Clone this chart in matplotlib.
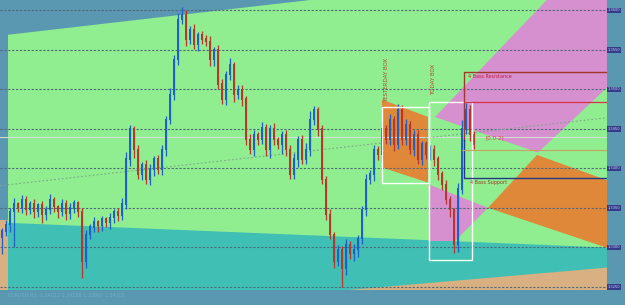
import numpy as np
import matplotlib
matplotlib.use("Agg")
import matplotlib.pyplot as plt
from matplotlib.patches import Polygon, Rectangle

# price data, in pips above the base price
base = 1.3250
close_pips = [70, 78, 95, 104, 100, 110, 97, 104, 95, 103,
              91, 97, 110, 101, 95, 105, 92, 99, 106, 95,
              32, 66, 75, 82, 77, 85, 81, 87, 95, 90,
              104, 161, 199, 173, 142, 154, 135, 148, 161, 148,
              173, 211, 243, 287, 338, 344, 313, 325, 306, 319,
              313, 310, 287, 300, 256, 237, 268, 281, 243, 249,
              237, 186, 173, 192, 186, 201, 173, 199, 186, 180,
              192, 173, 142, 161, 186, 161, 173, 211, 224, 199,
              135, 91, 66, 32, 47, 22, 53, 41, 47, 60,
              97, 135, 142, 173, 167, 199, 186, 211, 180, 224,
              186, 205, 173, 192, 161, 180, 167, 173, 161, 142,
              129, 110, 97, 53, 123, 199, 224, 192, 180]
first_open = 62
up_wick = [4, 6, 5, 8, 3, 6, 5, 4, 7, 3, 6, 5, 8, 4, 3, 6, 5, 7, 4, 3,
           5, 6, 4, 7, 3, 5, 4, 6, 3, 5, 8, 10, 6, 5, 7, 4, 6, 8, 5, 6,
           7, 5, 9, 6, 8, 10, 6, 5, 7, 4, 5, 6, 8, 4, 6, 7, 5, 9, 4, 6,
           7, 5, 8, 6, 4, 7, 5, 6, 8, 4, 5, 7, 6, 8, 5, 6, 9, 12, 5, 4,
           6, 5, 7, 4, 6, 5, 8, 5, 7, 6, 5, 8, 6, 7, 5, 9, 6, 8, 5, 7,
           6, 8, 5, 7, 6, 5, 4, 7, 6, 5, 4, 6, 5, 3, 8, 12, 10, 6, 5]
down_wick = [20, 6, 8, 45, 5, 7, 6, 5, 8, 6, 10, 7, 5, 6, 8, 5, 7, 6, 5, 6,
             21, 8, 6, 5, 7, 6, 5, 8, 6, 7, 5, 6, 8, 10, 6, 7, 5, 6, 8, 5,
             6, 8, 5, 7, 6, 5, 8, 6, 5, 7, 6, 5, 7, 8, 6, 5, 7, 6, 9, 5,
             8, 6, 5, 7, 6, 5, 8, 10, 6, 5, 12, 8, 6, 5, 9, 6, 5, 7, 6, 8,
             5, 7, 6, 8, 6, 22, 7, 6, 8, 9, 6, 7, 5, 8, 6, 7, 5, 6, 8, 5,
             7, 6, 5, 8, 6, 7, 5, 6, 8, 7, 6, 5, 8, 10, 9, 6, 5, 7, 6]

price_levels = [0, 50, 100, 150, 200, 250, 300, 350]
price_labels = ["1.3250", "1.3300", "1.3350", "1.3400", "1.3450", "1.3500", "1.3550", "1.3600"]

# chart objects (bar index, pips)
green_zone = [(1.5, 319), (77, 363), (162, 414), (162, -20), (1.5, -20)]
teal_zone = [(1.5, 81), (155, 49), (155, -20), (1.5, -20)]
tan_left = [(-1, 85), (1.5, 85), (1.5, -20), (-1, -20)]
tan_right = [(82, -6), (155, 26), (155, -20), (82, -20)]
orange_yday = [(95, 237), (106.5, 215), (106.5, 132), (95, 151)]
orange_proj = [(133.75, 167), (155, 128), (155, 43), (121.5, 100)]
pink_proj = [(108.25, 215), (137.5, 370), (155, 370), (155, 270), (134, 170)]
pink_today = [(107, 129), (121.5, 100), (113.25, 58), (107, 58)]
yday_box = (95, 132, 11.75, 96)
today_box = (106.75, 34, 10.75, 200)
trend_line = [(-0.5, 128), (151.25, 214)]

bg = "#5a97b0"
bull = "#1f5fc8"
bear = "#b8362c"


def p(v):
    return base + np.asarray(v) / 10000.0


def poly(pts, color, z):
    xy = [(x, p(y)) for x, y in pts]
    ax.add_patch(Polygon(xy, closed=True, facecolor=color, edgecolor="none", zorder=z))


fig = plt.figure(figsize=(6.25, 3.05), dpi=100)
fig.patch.set_facecolor(bg)
ax = fig.add_axes([0, 15 / 305, 607 / 625, 290 / 305])
ax.set_facecolor(bg)
ax.set_xlim(-0.5, 151.25)
ax.set_ylim(p(-4), p(363))
for s in ax.spines.values():
    s.set_visible(False)
ax.set_xticks([])
ax.set_yticks([])

poly(green_zone, "#90ee90", 1)
poly(teal_zone, "#40c0b4", 1.1)
poly(tan_left, "#d8b082", 1.2)
poly(tan_right, "#d8b082", 1.2)
poly(orange_yday, "#e0883a", 2)
poly(orange_proj, "#e0883a", 2)
poly(pink_proj, "#d68fcf", 2)
poly(pink_today, "#d68fcf", 2)

# grid levels
for lv in price_levels:
    ax.axhline(p(lv), color="#50687a", lw=0.8, ls=(0, (2, 1.5)), zorder=3)
ax.axhline(p(189), color="#d4ddd4", lw=0.8, zorder=3)
ax.plot([trend_line[0][0], trend_line[1][0]], p([trend_line[0][1], trend_line[1][1]]),
        color="#7aa888", lw=0.8, ls=(0, (1.5, 2)), zorder=3)

# candles
close = np.array(close_pips, dtype=float)
opens = np.r_[first_open, close[:-1]]
highs = np.maximum(opens, close) + np.array(up_wick)
lows = np.minimum(opens, close) - np.array(down_wick)
idx = np.arange(len(close))
colors = [bull if c >= o else bear for o, c in zip(opens, close)]
ax.vlines(idx, p(lows), p(highs), colors=colors, lw=0.9, zorder=4)
ax.bar(idx, p(np.abs(close - opens) + 1.5) - base, bottom=p(np.minimum(opens, close)),
       width=0.7, color=colors, zorder=5, linewidth=0)

# boxes
for bx in (yday_box, today_box):
    ax.add_patch(Rectangle((bx[0], p(bx[1])), bx[2], bx[3] / 10000.0, fill=False,
                           edgecolor="white", lw=1.0, zorder=6))
ax.text(96.2, p(290), "YESTERDAY BOX", rotation=90, fontsize=4, color="#b04a30",
        va="top", ha="center", zorder=7)
ax.text(108.0, p(282), "TODAY BOX", rotation=90, fontsize=4, color="#b04a30",
        va="top", ha="center", zorder=7)

# bass levels
ax.plot([115.5, 115.5, 160], p([186, 272, 272]), color="#a03828", lw=1.0, zorder=6)
ax.plot([115.5, 115.5, 160], p([186, 138, 138]), color="#243a88", lw=1.0, zorder=6)
ax.plot([115.5, 160], p([234, 234]), color="#d8304a", lw=0.9, zorder=6)
ax.plot([115, 160], p([173, 173]), color="#c8a060", lw=0.8, zorder=6)
ax.text(116.5, p(269), "4 Bass Resistance", fontsize=3.5, color="#c02040", va="top", zorder=7)
ax.text(117, p(135), "4 Bass Support", fontsize=3.5, color="#a03828", va="top", zorder=7)
ax.text(121, p(189), "[0.0-2]", fontsize=4, color="#c84040", va="center", zorder=7)

# price scale
for lv, lab in zip(price_levels, price_labels):
    ax.text(1.0015, p(lv), lab, transform=ax.get_yaxis_transform(), fontsize=2.6,
            color="#c8d0f0", va="center", ha="left", clip_on=False,
            bbox=dict(boxstyle="square,pad=0.2", fc="#343c88", ec="none"))

fig.text(0.012, 0.033, "EURUSD,H1  1.34012 1.34188 1.33967 1.34101", fontsize=3.5,
         color="#6ab0c0", va="center")

fig.savefig("out.png", dpi=100, facecolor=bg)
